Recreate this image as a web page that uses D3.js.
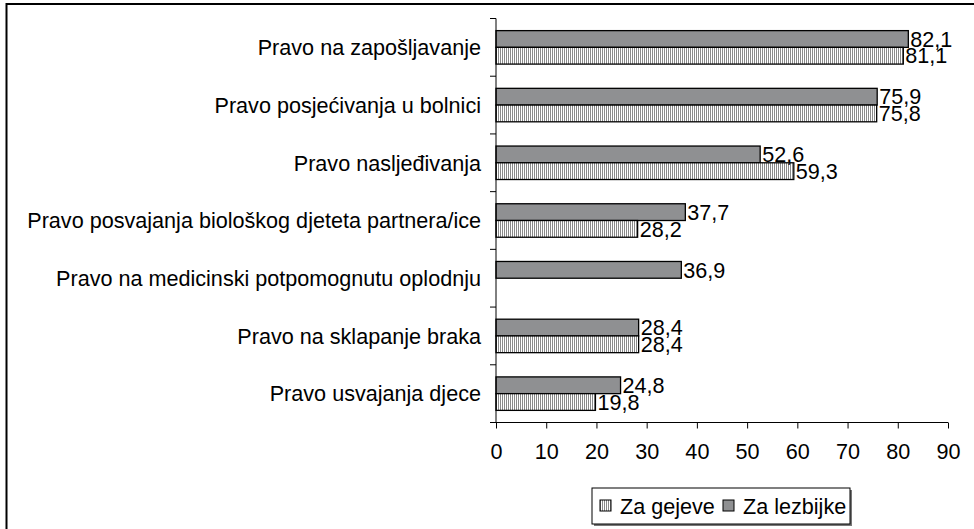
<!DOCTYPE html>
<html>
<head>
<meta charset="utf-8">
<script src="https://cdn.jsdelivr.net/npm/d3@7"></script>
<style>
  body { margin: 0; background: #fff; }
  svg text { font-family: "Liberation Sans", Arial, sans-serif; fill: #000; }
</style>
</head>
<body>
<div id="chart"></div>
<script>
// categories, top to bottom
const categories = [
  'Pravo na zapošljavanje',
  'Pravo posjećivanja u bolnici',
  'Pravo nasljeđivanja',
  'Pravo posvajanja biološkog djeteta partnera/ice',
  'Pravo na medicinski potpomognutu oplodnju',
  'Pravo na sklapanje braka',
  'Pravo usvajanja djece'
]
const seriesNames = ['Za lezbijke', 'Za gejeve']
const lezbijke = [82.1, 75.9, 52.6, 37.7, 36.9, 28.4, 24.8]
const gejeve = [81.1, 75.8, 59.3, 28.2, null, 28.4, 19.8]
const xTicks = [0, 10, 20, 30, 40, 50, 60, 70, 80, 90]

const W = 974
const H = 529
const FS = 21.6
const fmt = v => String(v.toFixed(1)).replace('.', ',')

const svg = d3.select('#chart').append('svg')
  .attr('width', W)
  .attr('height', H)

// striped pattern for "Za gejeve"
const defs = svg.append('defs')
const pat = defs.append('pattern')
  .attr('id', 'stripes')
  .attr('patternUnits', 'userSpaceOnUse')
  .attr('width', 2)
  .attr('height', 4)
pat.append('rect').attr('width', 2).attr('height', 4).attr('fill', '#fff')
pat.append('rect').attr('width', 1).attr('height', 4).attr('fill', '#8a8a8a')

// outer frame
svg.append('rect')
  .attr('x', 6.5).attr('y', 4)
  .attr('width', 1000).attr('height', 600)
  .attr('fill', 'none')
  .attr('stroke', '#000')
  .attr('stroke-width', 2)

const plot = { left: 496, right: 948, top: 18.5, bottom: 422.5 }

const x = d3.scaleLinear().domain([0, 90]).range([plot.left, plot.right])
const y = d3.scaleBand().domain(categories)
  .range([plot.top, plot.bottom])
  .paddingInner(0.42)
  .paddingOuter(0.21)
const ySub = d3.scaleBand().domain(seriesNames).range([0, y.bandwidth()])

const rows = categories.map((c, i) => ({ cat: c, 'Za lezbijke': lezbijke[i], 'Za gejeve': gejeve[i] }))

// bars
const groups = svg.append('g').selectAll('g')
  .data(rows)
  .enter().append('g')
  .attr('transform', d => `translate(0,${y(d.cat)})`)

groups.each(function (d) {
  const g = d3.select(this)
  seriesNames.forEach(s => {
    if (d[s] === null) return
    g.append('rect')
      .attr('x', x(0))
      .attr('y', ySub(s))
      .attr('width', x(d[s]) - x(0))
      .attr('height', ySub.bandwidth())
      .attr('fill', s === 'Za gejeve' ? 'url(#stripes)' : '#8f9092')
      .attr('stroke', '#000')
      .attr('stroke-width', 1.3)
  })
})
// value labels on top of the bars
groups.each(function (d) {
  const g = d3.select(this)
  seriesNames.forEach(s => {
    if (d[s] === null) return
    g.append('text')
      .attr('x', x(d[s]) + 2)
      .attr('y', ySub(s) + ySub.bandwidth() / 2)
      .attr('dy', '0.36em')
      .attr('font-size', FS)
      .text(fmt(d[s]))
  })
})

// x axis
const xAxis = svg.append('g')
  .attr('transform', `translate(0,${plot.bottom})`)
  .call(d3.axisBottom(x).tickValues(xTicks).tickSize(6).tickPadding(15))
xAxis.selectAll('text').attr('font-size', FS)
  .style('font-family', '"Liberation Sans", Arial, sans-serif')
xAxis.select('.domain').attr('d', `M${plot.left},0H${plot.right}`)
xAxis.selectAll('line, path').attr('stroke', '#000')

// y axis (ticks between categories)
const yAxis = svg.append('g').attr('transform', `translate(${plot.left},0)`)
yAxis.append('line')
  .attr('y1', plot.top).attr('y2', plot.bottom)
  .attr('stroke', '#000')
const boundaries = categories.map(c => y(c) - y.step() * y.paddingInner() / 2)
boundaries.push(plot.bottom)
yAxis.selectAll('.ytick')
  .data(boundaries)
  .enter().append('line')
  .attr('x1', -6).attr('x2', 0)
  .attr('y1', d => d).attr('y2', d => d)
  .attr('stroke', '#000')
yAxis.selectAll('.ylab')
  .data(categories)
  .enter().append('text')
  .attr('x', -15)
  .attr('y', d => y(d) + y.bandwidth() / 2)
  .attr('dy', '0.36em')
  .attr('text-anchor', 'end')
  .attr('font-size', FS)
  .text(d => d)

// legend
const leg = svg.append('g').attr('transform', 'translate(592,488)')
leg.append('rect').attr('x', 2).attr('y', 2).attr('width', 258).attr('height', 36).attr('fill', '#777')
leg.append('rect').attr('x', 0).attr('y', 0).attr('width', 258).attr('height', 36)
  .attr('fill', '#fff').attr('stroke', '#000').attr('stroke-width', 1)
const legendItems = [
  { name: 'Za gejeve', fill: 'url(#stripes)', x: 8 },
  { name: 'Za lezbijke', fill: '#8f9092', x: 131 }
]
legendItems.forEach(it => {
  leg.append('rect')
    .attr('x', it.x).attr('y', 12)
    .attr('width', 11).attr('height', 11)
    .attr('fill', it.fill).attr('stroke', '#000')
  leg.append('text')
    .attr('x', it.x + 20).attr('y', 18)
    .attr('dy', '0.36em')
    .attr('font-size', FS)
    .text(it.name)
})
</script>
</body>
</html>
